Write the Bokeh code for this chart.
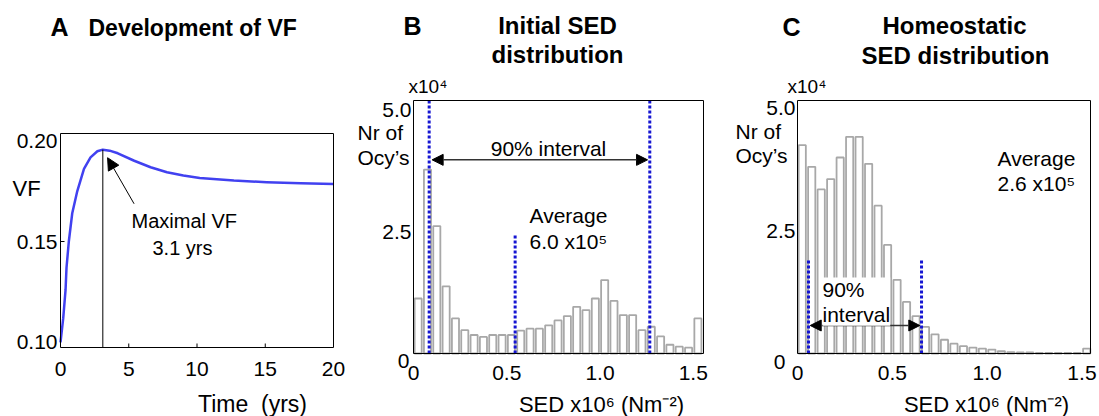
from bokeh.plotting import figure
from bokeh.layouts import row
from bokeh.models import Label, Arrow, NormalHead, Range1d, BoxAnnotation
from bokeh.core.properties import value
from bokeh.embed import file_html
from bokeh.resources import INLINE

FONT = "Liberation Sans"
CURVE_BLUE = "#4141f0"
DOT_BLUE = "#1515d2"
BAR_EDGE = "#a8a8a8"

# ---------------- data ----------------
# Panel A: development of volume fraction (VF) over time
time_yrs = [0.0, 0.2, 0.37, 0.44, 0.61, 0.86, 1.23, 1.72, 2.2, 2.7, 3.1, 3.6, 4.2,
            5.4, 6.6, 7.8, 9.0, 10.2, 12.7, 15.1, 17.6, 20.0]
vf = [0.100, 0.112, 0.126, 0.137, 0.150, 0.164, 0.175, 0.186, 0.1917, 0.1947, 0.1955,
      0.1950, 0.1937, 0.1900, 0.1868, 0.1843, 0.1827, 0.1815, 0.1802, 0.1794, 0.1789, 0.1785]
peak_time = [3.1]
peak_vf = [0.1955]
x_ticks_a = [0, 5, 10, 15, 20]
x_labels_a = ["0", "5", "10", "15", "20"]
y_ticks_a = [0.10, 0.15, 0.20]
y_labels_a = ["0.10", "0.15", "0.20"]

# Panels B and C: SED histograms (bins of 0.05 x10^6 Nm^-2), counts in x10^4
bin_left = [0.00, 0.05, 0.10, 0.15, 0.20, 0.25, 0.30, 0.35, 0.40, 0.45, 0.50, 0.55,
            0.60, 0.65, 0.70, 0.75, 0.80, 0.85, 0.90, 0.95, 1.00, 1.05, 1.10, 1.15,
            1.20, 1.25, 1.30, 1.35, 1.40, 1.45, 1.50]
initial_counts = [1.13, 3.78, 2.62, 1.38, 0.72, 0.48, 0.38, 0.34, 0.38, 0.38, 0.38, 0.47,
                  0.51, 0.51, 0.58, 0.68, 0.77, 0.96, 0.89, 1.13, 1.51, 1.08, 0.79, 0.79,
                  0.48, 0.55, 0.35, 0.18, 0.14, 0.12, 0.72]
homeo_counts = [4.24, 3.80, 3.34, 3.55, 3.99, 4.41, 4.41, 3.86, 3.01, 2.21, 1.50, 1.05,
                0.76, 0.54, 0.39, 0.28, 0.20, 0.15, 0.12, 0.10, 0.08, 0.05, 0.03, 0.02,
                0.02, 0.01, 0.01, 0.01, 0.01, 0.01, 0.10]
initial_marker_x = [0.084, 0.545, 1.267]
initial_marker_top = [5.2, 2.44, 5.2]
initial_interval = [0.10, 1.255]
homeo_marker_x = [0.058, 0.654]
homeo_marker_top = [1.92, 1.92]
homeo_interval = [0.067, 0.645]
x_ticks_sed = [0, 0.5, 1.0, 1.5]
x_labels_sed = ["0", "0.5", "1.0", "1.5"]
y_ticks_cnt = [2.5, 5.0]
y_labels_cnt = ["2.5", "5.0"]

H = 416


def make_panel(X0, W, box, xdat, ydat):
    """box = (left, right, top, bottom) of the plot box in page pixels."""
    L, R, T, B = box
    sx = (R - L) / (xdat[1] - xdat[0])
    sy = (B - T) / (ydat[1] - ydat[0])
    xr = Range1d(xdat[0] - (L - X0) / sx, xdat[1] + (X0 + W - R) / sx)
    yr = Range1d(ydat[0] - (H - B) / sy, ydat[1] + T / sy)
    p = figure(width=W, height=H, x_range=xr, y_range=yr, min_border=0,
               x_axis_location=None, y_axis_location=None, title=None,
               output_backend="svg", toolbar_location=None)
    p.xgrid.visible = False
    p.ygrid.visible = False
    p.outline_line_color = None
    p.background_fill_color = "white"
    p.border_fill_color = "white"
    p.add_layout(BoxAnnotation(left=xdat[0], right=xdat[1], bottom=ydat[0], top=ydat[1],
                               fill_alpha=0, fill_color=None, line_color="black",
                               line_width=1, line_alpha=1))
    return p, sx, sy


def ticks(p, xdat, ydat, xt, xl, yt, yl, x_off, y_off, size=21):
    p.text(x=xt, y=[ydat[0]] * len(xt), text=xl, y_offset=y_off,
           text_font=value(FONT), text_font_size=f"{size}px", text_color="black",
           text_align="center", text_baseline="middle")
    p.text(x=[xdat[0]] * len(yt), y=yt, text=yl, x_offset=x_off,
           text_font=value(FONT), text_font_size=f"{size}px", text_color="black",
           text_align="right", text_baseline="middle")


def txt(p, X0, text, rx, ry, size=21, bold=False, align="left", baseline="middle", **kw):
    p.add_layout(Label(x=rx - X0, y=H - ry, x_units="screen", y_units="screen",
                       text=text, text_font=FONT, text_font_size=f"{size}px",
                       text_font_style="bold" if bold else "normal",
                       text_align=align, text_baseline=baseline,
                       text_color="black", **kw))


# ---------------- Panel A ----------------
XA, WA = 0, 345
xa_dat, ya_dat = (0, 20), (0.0975, 0.2035)
pa, sxa, sya = make_panel(XA, WA, (60, 333, 133, 347), xa_dat, ya_dat)
ticks(pa, xa_dat, ya_dat, x_ticks_a, x_labels_a, y_ticks_a, y_labels_a, -3, 21)
# inner tick marks
inner_x = x_ticks_a[1:-1]
pa.segment(x0=inner_x, y0=[ya_dat[0]] * len(inner_x), x1=inner_x,
           y1=[ya_dat[0] + 4 / sya] * len(inner_x), line_color="black", line_width=1)
pa.segment(x0=[xa_dat[0]], y0=[y_ticks_a[1]], x1=[xa_dat[0] + 4 / sxa], y1=[y_ticks_a[1]],
           line_color="black", line_width=1)

pa.line(time_yrs, vf, line_color=CURVE_BLUE, line_width=2.5, line_join="round")
pa.segment(x0=peak_time, y0=[ya_dat[0]], x1=peak_time, y1=peak_vf,
           line_color="black", line_width=1)
pa.add_layout(Arrow(end=NormalHead(size=12, fill_color="black", line_color="black"),
                    x_start=5.39, y_start=0.1687, x_end=3.45, y_end=0.1915,
                    line_color="black", line_width=1))

txt(pa, XA, "A", 50, 26, size=25, bold=True)
txt(pa, XA, "Development of VF", 88, 27, size=23, bold=True)
txt(pa, XA, "VF", 12, 188, size=22)
txt(pa, XA, "Time \u00a0(yrs)", 252, 403, size=23, align="center")
txt(pa, XA, "Maximal VF", 131, 220, size=20)
txt(pa, XA, "3.1 yrs", 152, 247, size=20)


def hist_panel(p, xdat, ydat, counts, marker_x, marker_top, interval, arrow_y):
    ticks(p, xdat, ydat, x_ticks_sed, x_labels_sed, y_ticks_cnt, y_labels_cnt, -2, 19.5)
    lefts = [b + 0.006 for b in bin_left]
    rights = [b + 0.044 for b in bin_left]
    p.quad(left=lefts, right=rights, bottom=[0] * len(counts), top=counts,
           fill_color="white", line_color=BAR_EDGE, line_width=1.8)
    p.segment(x0=marker_x, y0=[0] * len(marker_x), x1=marker_x, y1=marker_top,
              line_color=DOT_BLUE, line_width=3, line_dash="3 2")
    p.add_layout(Arrow(start=NormalHead(size=11, fill_color="black", line_color="black"),
                       end=NormalHead(size=11, fill_color="black", line_color="black"),
                       x_start=interval[0], y_start=arrow_y,
                       x_end=interval[1], y_end=arrow_y,
                       line_color="#333333", line_width=1.5))


# ---------------- Panel B ----------------
XB, WB = 345, 387
xb_dat, yb_dat = (0, 1.555), (0, 5.2)
pb, sxb, syb = make_panel(XB, WB, (413, 703, 100, 353), xb_dat, yb_dat)
hist_panel(pb, xb_dat, yb_dat, initial_counts, initial_marker_x, initial_marker_top,
           initial_interval, 3.98)
txt(pb, XB, "B", 403, 25, size=25, bold=True)
txt(pb, XB, "Initial SED", 557, 25, size=24, bold=True, align="center")
txt(pb, XB, "distribution", 557, 54, size=24, bold=True, align="center")
txt(pb, XB, "x10\u2074", 408, 86, size=19)
txt(pb, XB, "Nr of", 357, 132)
txt(pb, XB, "Ocy\u2019s", 357, 157)
txt(pb, XB, "0", 409, 360, align="right")
txt(pb, XB, "90% interval", 548, 148, align="center")
txt(pb, XB, "Average", 529, 215)
txt(pb, XB, "6.0 x10\u2075", 529, 241)
txt(pb, XB, "SED x10\u2076 (Nm\u207b\u00b2)", 601, 404, size=22, align="center")

# ---------------- Panel C ----------------
XC, WC = 732, 367
xc_dat, yc_dat = (0, 1.545), (0, 5.15)
pc, sxc, syc = make_panel(XC, WC, (797, 1090, 100, 353), xc_dat, yc_dat)
hist_panel(pc, xc_dat, yc_dat, homeo_counts, homeo_marker_x, homeo_marker_top,
           homeo_interval, 0.57)
txt(pc, XC, "C", 782, 26, size=25, bold=True)
txt(pc, XC, "Homeostatic", 954, 25, size=24, bold=True, align="center")
txt(pc, XC, "SED distribution", 955, 55, size=24, bold=True, align="center")
txt(pc, XC, "x10\u2074", 787, 86, size=19)
txt(pc, XC, "Nr of", 735, 131)
txt(pc, XC, "Ocy\u2019s", 735, 155)
txt(pc, XC, "0", 785, 361, align="right")
txt(pc, XC, "Average", 997, 158)
txt(pc, XC, "2.6 x10\u2075", 997, 183)
txt(pc, XC, "90%\ninterval", 822, 277, baseline="top",
    background_fill_color="white", text_line_height=1.1)
txt(pc, XC, "SED x10\u2076 (Nm\u207b\u00b2)", 986, 404, size=22, align="center")

layout = row(pa, pb, pc, spacing=0)
open("out.html", "w").write(file_html(layout, INLINE))
